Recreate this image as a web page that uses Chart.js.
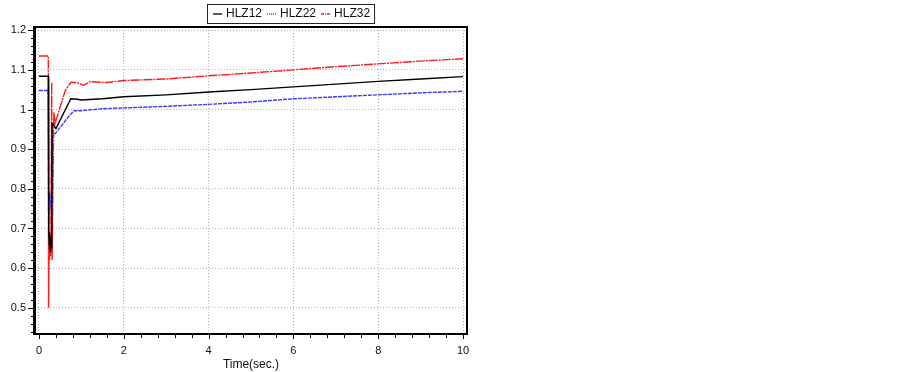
<!DOCTYPE html>
<html>
<head>
<meta charset="utf-8">
<script src="https://cdn.jsdelivr.net/npm/chart.js@4.4.0/dist/chart.umd.min.js"></script>
<style>
  body { margin: 0; background: #fff; }
  canvas { display: block; }
</style>
</head>
<body>
<canvas id="chart" width="903" height="372"></canvas>
<script>
// 数据: 时间(秒) 和 各母线电压
const hlz12Time  = [0, 0.22, 0.23, 0.24, 0.25, 0.26, 0.27, 0.28, 0.29, 0.30, 0.31, 0.35, 0.40, 0.75, 0.90, 1.0, 1.5, 2, 3, 4, 5, 6, 7, 8, 9, 10];
const hlz12Value = [1.084, 1.084, 0.70, 0.66, 0.69, 0.65, 0.68, 0.64, 0.67, 0.65, 0.965, 0.96, 0.952, 1.027, 1.026, 1.024, 1.027, 1.032, 1.037, 1.044, 1.050, 1.057, 1.064, 1.071, 1.077, 1.083];

const hlz22Time  = [0, 0.22, 0.23, 0.25, 0.28, 0.30, 0.31, 0.50, 0.72, 0.83, 1.0, 1.5, 2, 3, 4, 5, 6, 7, 8, 9, 10];
const hlz22Value = [1.048, 1.048, 0.70, 0.79, 0.76, 0.73, 0.93, 0.955, 0.985, 0.997, 0.997, 1.002, 1.004, 1.008, 1.013, 1.019, 1.027, 1.032, 1.037, 1.042, 1.046];

const hlz32Time  = [0, 0.22, 0.225, 0.24, 0.25, 0.26, 0.27, 0.28, 0.30, 0.31, 0.35, 0.38, 0.62, 0.75, 0.90, 1.05, 1.2, 1.6, 2, 3, 4, 5, 6, 7, 8, 9, 10];
const hlz32Value = [1.135, 1.135, 0.50, 0.66, 0.62, 0.68, 0.63, 0.66, 1.069, 0.62, 0.993, 0.965, 1.048, 1.068, 1.068, 1.061, 1.070, 1.068, 1.073, 1.077, 1.085, 1.092, 1.100, 1.108, 1.115, 1.122, 1.128];

const xTicks = [0, 2, 4, 6, 8, 10];
const yTicks = [0.5, 0.6, 0.7, 0.8, 0.9, 1.0, 1.1, 1.2];
const xMinorStep = 0.4;
const yMinorStep = 0.02;

function toPoints(ts, vs) {
    return ts.map((t, i) => ({ x: t, y: vs[i] }));
}

const FONT = '"Liberation Sans", Arial, sans-serif';

// 边框、小刻度和图例
const framePlugin = {
    id: 'frame',
    afterDraw(chart) {
        const { ctx, chartArea: a, scales: { x, y } } = chart;
        ctx.save();
        ctx.strokeStyle = '#000';
        ctx.lineWidth = 1;
        ctx.setLineDash([]);
        ctx.beginPath();
        // x 刻度
        for (let i = 0; i * xMinorStep <= 10.0001; i++) {
            const v = i * xMinorStep;
            const px = Math.round(x.getPixelForValue(v)) + 0.5;
            const major = Math.abs(v / 2 - Math.round(v / 2)) < 1e-6;
            ctx.moveTo(px, a.bottom);
            ctx.lineTo(px, a.bottom + (major ? 5 : 4));
        }
        // y 刻度
        for (let i = 22; i * yMinorStep <= 1.2001; i++) {
            const v = i * yMinorStep;
            const py = Math.round(y.getPixelForValue(v)) + 0.5;
            const major = i % 5 === 0;
            ctx.moveTo(a.left, py);
            ctx.lineTo(a.left - (major ? 7 : 4), py);
        }
        ctx.stroke();

        // 外框
        ctx.lineWidth = 2;
        ctx.strokeRect(a.left, a.top, a.right - a.left, a.bottom - a.top);
        ctx.lineWidth = 3;
        ctx.beginPath();
        ctx.moveTo(a.left - 0.5, a.top - 1);
        ctx.lineTo(a.left - 0.5, a.bottom + 1);
        ctx.stroke();

        // 图例
        ctx.font = '12px ' + FONT;
        ctx.textBaseline = 'middle';
        const sets = chart.data.datasets;
        const bx = 207, by = 4, bh = 19;
        let cx = bx + 6;
        const items = sets.map(ds => {
            const w = ctx.measureText(ds.label).width;
            const it = { ds, x: cx, w };
            cx += 9 + 4 + w + 5;
            return it;
        });
        const bw = cx - bx - 1;
        ctx.fillStyle = '#fff';
        ctx.fillRect(bx, by, bw, bh);
        ctx.lineWidth = 1;
        ctx.strokeStyle = '#222';
        ctx.strokeRect(bx + 0.5, by + 0.5, bw, bh);
        const ly = by + bh / 2 + 0.5;
        items.forEach(it => {
            ctx.strokeStyle = it.ds.borderColor;
            ctx.lineWidth = 1.3;
            ctx.setLineDash(it.ds.legendDash || []);
            ctx.beginPath();
            ctx.moveTo(it.x, ly);
            ctx.lineTo(it.x + 9, ly);
            ctx.stroke();
            ctx.setLineDash([]);
            ctx.fillStyle = '#111';
            ctx.fillText(it.ds.label, it.x + 13, ly);
        });
        ctx.restore();
    }
};

new Chart(document.getElementById('chart').getContext('2d'), {
    type: 'line',
    data: {
        datasets: [
            {
                label: 'HLZ12',
                data: toPoints(hlz12Time, hlz12Value),
                borderColor: '#000000',
                borderWidth: 1.4,
                borderDash: [],
                legendDash: []
            },
            {
                label: 'HLZ22',
                data: toPoints(hlz22Time, hlz22Value),
                borderColor: '#3838ff',
                borderWidth: 1.4,
                borderDash: [4, 1],
                legendDash: [1, 1]
            },
            {
                label: 'HLZ32',
                data: toPoints(hlz32Time, hlz32Value),
                borderColor: '#ff1a1a',
                borderWidth: 1.4,
                borderDash: [9, 1, 2, 1],
                legendDash: [3, 1, 1, 1]
            }
        ]
    },
    options: {
        responsive: false,
        animation: false,
        layout: { padding: { left: 0, right: 436, top: 27, bottom: 0 } },
        elements: {
            point: { radius: 0 },
            line: { tension: 0, fill: false }
        },
        plugins: {
            legend: { display: false },
            tooltip: { enabled: false }
        },
        scales: {
            x: {
                type: 'linear',
                min: -0.094,
                max: 10.094,
                afterBuildTicks: s => { s.ticks = xTicks.map(v => ({ value: v })); },
                afterFit: s => { s.height = 38; },
                grid: { color: '#b4b4b4', lineWidth: 1, drawTicks: false },
                border: { display: false, dash: [1, 2] },
                ticks: {
                    padding: 10,
                    color: '#111',
                    font: { family: FONT, size: 11 },
                    maxRotation: 0,
                    callback: v => String(v)
                },
                title: {
                    display: true,
                    text: 'Time(sec.)',
                    color: '#111',
                    font: { family: FONT, size: 12 },
                    padding: { top: 0, bottom: 0 }
                }
            },
            y: {
                type: 'linear',
                min: 0.434,
                max: 1.208,
                afterBuildTicks: s => { s.ticks = yTicks.map(v => ({ value: v })); },
                afterFit: s => { s.width = 35; },
                grid: { color: '#b4b4b4', lineWidth: 1, drawTicks: false },
                border: { display: false, dash: [1, 2] },
                ticks: {
                    padding: 9,
                    color: '#111',
                    font: { family: FONT, size: 11 },
                    callback: v => String(Math.round(v * 10) / 10)
                }
            }
        }
    },
    plugins: [framePlugin]
});
</script>
</body>
</html>
